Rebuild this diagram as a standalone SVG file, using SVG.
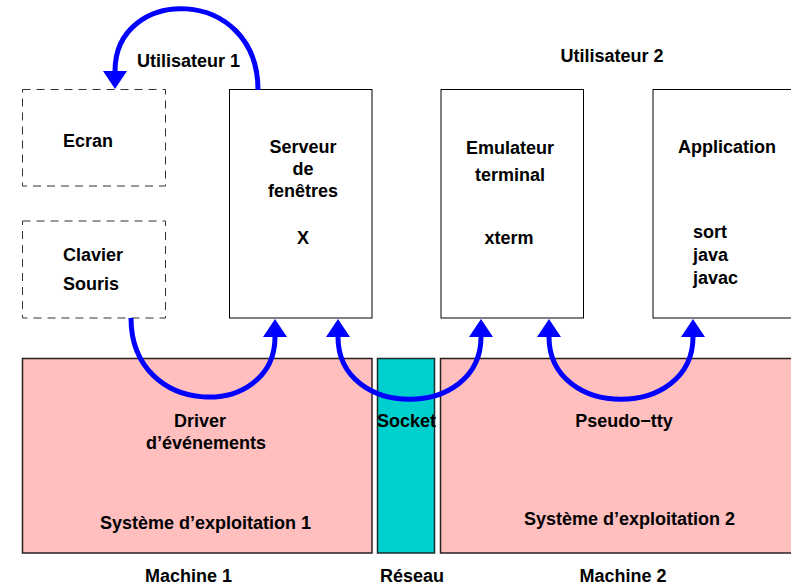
<svg xmlns="http://www.w3.org/2000/svg" width="791" height="586" viewBox="0 0 791 586">
<style>
text{font-family:"Liberation Sans",Arial,sans-serif;font-weight:bold;font-size:18px;fill:#000}
.c{text-anchor:middle}
.box{fill:#fff;stroke:#000;stroke-width:1}
.dash{fill:#fff;stroke:#333;stroke-width:1;stroke-dasharray:8 6}
.os{fill:#FFBFBF;stroke:#2a1f1f;stroke-width:1.5}
.net{fill:#00CFCF;stroke:#1f2a2a;stroke-width:1.5}
.arc{fill:none;stroke:#0000FF;stroke-width:5}
</style>
<defs>
<marker id="ah" viewBox="0 0 18 24" refX="0" refY="12" markerWidth="18" markerHeight="24" markerUnits="userSpaceOnUse" orient="auto-start-reverse">
<path d="M0,0 L18,12 L0,24 z" fill="#0000FF"/>
</marker>
</defs>
<g id="os1"><rect class="os" x="22.5" y="358.5" width="349.5" height="194.5"/>
<text class="c" x="200" y="427">Driver</text>
<text class="c" x="206" y="449">d’événements</text>
<text class="c" x="205.5" y="528.5">Système d’exploitation 1</text></g>
<g id="reseau"><rect class="net" x="377.5" y="358.5" width="57" height="194.5"/>
<text class="c" x="406.5" y="427">Socket</text></g>
<g id="os2"><rect class="os" x="440.5" y="358.5" width="360" height="194.5"/>
<text class="c" x="624" y="427">Pseudo−tty</text>
<text class="c" x="629.5" y="524.5">Système d’exploitation 2</text></g>
<g id="ecran"><rect class="dash" x="22.5" y="89.5" width="143" height="96.5"/>
<text x="63" y="147">Ecran</text></g>
<g id="clavier"><rect class="dash" x="22.5" y="221" width="143" height="97"/>
<text x="63" y="261">Clavier</text>
<text x="63" y="290">Souris</text></g>
<g id="serveur"><rect class="box" x="229.5" y="89.5" width="142.5" height="228.5"/>
<text class="c" x="303" y="153">Serveur</text>
<text class="c" x="303" y="175">de</text>
<text class="c" x="303" y="197">fenêtres</text>
<text class="c" x="303" y="244">X</text></g>
<g id="emulateur"><rect class="box" x="441" y="89.5" width="142.5" height="228.5"/>
<text class="c" x="510" y="154">Emulateur</text>
<text class="c" x="510" y="181">terminal</text>
<text class="c" x="509" y="244">xterm</text></g>
<g id="application"><rect class="box" x="653" y="89.5" width="150" height="228.5"/>
<text class="c" x="727" y="153">Application</text>
<text x="693" y="238">sort</text>
<text x="693" y="261">java</text>
<text x="693" y="284">javac</text></g>
<g id="labels">
<text class="c" x="188.5" y="67">Utilisateur 1</text>
<text class="c" x="612" y="62">Utilisateur 2</text>
<text class="c" x="188.5" y="582">Machine 1</text>
<text class="c" x="412" y="582">Réseau</text>
<text class="c" x="623" y="582">Machine 2</text>
</g>
<g id="connectors">
<path class="arc" d="M258 90 C258 -15 115 -15 115 71" marker-end="url(#ah)"/>
<path class="arc" d="M131 318 C131 420 275 420 275 337" marker-end="url(#ah)"/>
<path class="arc" d="M338 337 C338 420 481 420 481 337" marker-start="url(#ah)" marker-end="url(#ah)"/>
<path class="arc" d="M549 337 C549 420 693 420 693 337" marker-start="url(#ah)" marker-end="url(#ah)"/>
</g>
</svg>
